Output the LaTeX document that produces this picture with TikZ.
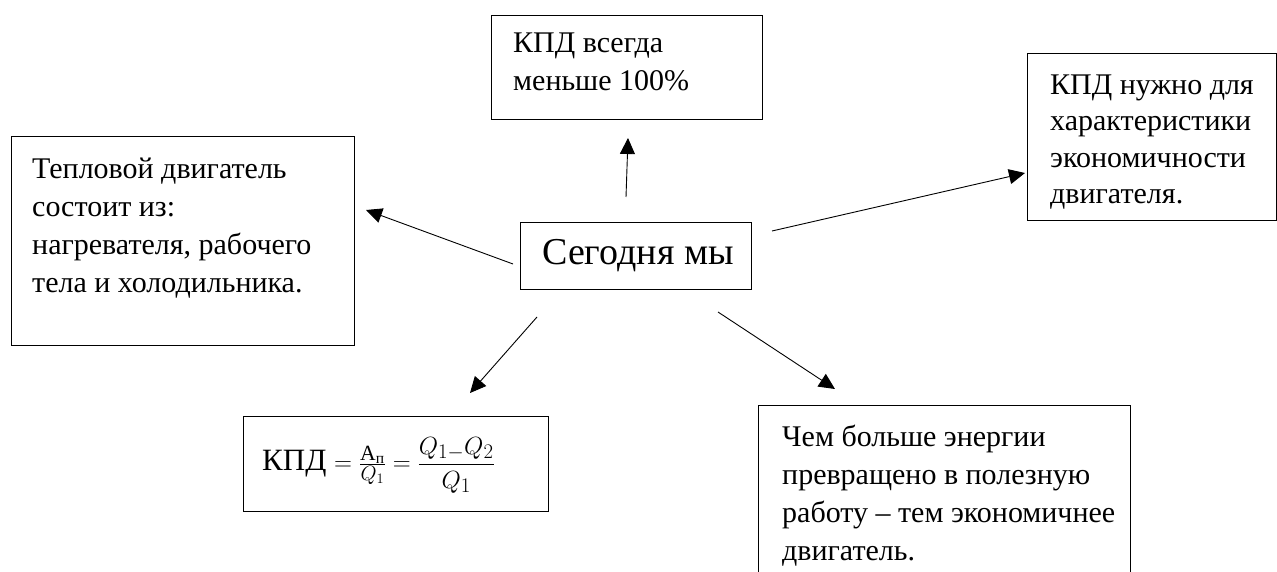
\documentclass[tikz,border=0pt]{standalone}
\usepackage{amsmath}
\usepackage{fontspec}
\setmainfont{Liberation Serif}
\usetikzlibrary{arrows.meta}

% text nodes are placed by the baseline of their last line
\tikzset{
  frame/.style={draw, rectangle, line width=1.3pt, inner sep=0pt, anchor=north west},
  words/.style={anchor=base west, inner sep=0pt, align=left, font=\fontsize{30}{38}\selectfont},
  link/.style={line width=0.9pt, -{Triangle[length=16pt,width=15pt]}},
}

\begin{document}
\begin{tikzpicture}[x=1pt, y=-1pt]
  \useasboundingbox (0,0) rectangle (1277,572);
  \clip (0,0) rectangle (1277,572);

  % centre box
  \node[frame, minimum width=231pt, minimum height=67pt] (today) at (520,222) {};
  \node[words, font=\fontsize{38}{44}\selectfont] (todaytxt) at (542,265) {Сегодня мы};

  % top box
  \node[frame, minimum width=271pt, minimum height=104pt] (always) at (491,15) {};
  \node[words] (alwaystxt) at (513,91) {КПД всегда\\меньше 100\%};

  % right box
  \node[frame, minimum width=249pt, minimum height=167pt] (purpose) at (1027,53) {};
  \node[words, font=\fontsize{30}{36.5}\selectfont] (purposetxt) at (1050,204)
    {КПД нужно для\\характеристики\\экономичности\\двигателя.};

  % left box
  \node[frame, minimum width=343pt, minimum height=209pt] (engine) at (11,136) {};
  \node[words] (enginetxt) at (32,292)
    {Тепловой двигатель\\состоит из:\\нагревателя, рабочего\\тела и холодильника.};

  % formula box
  \node[frame, minimum width=305pt, minimum height=95pt] (formula) at (243,416) {};
  \node[anchor=west, inner sep=0pt, font=\fontsize{31}{36}\selectfont] (formulatxt) at (262,465)
    {КПД $= \tfrac{\text{А}_{\text{п}}}{Q_1} = \dfrac{Q_{1-}Q_2}{Q_1}$};

  % bottom right box, running past the lower edge
  \node[frame, minimum width=372pt, minimum height=220pt] (economy) at (758,405) {};
  \node[words] (economytxt) at (782,560)
    {Чем больше энергии\\превращено в полезную\\работу – тем экономичнее\\двигатель.};

  % arrow end points
  \coordinate (toEngineA) at (513,264);  \coordinate (toEngineB) at (366,210);
  \coordinate (toAlwaysA) at (626,197);  \coordinate (toAlwaysB) at (628,138);
  \coordinate (toPurposeA) at (772,231); \coordinate (toPurposeB) at (1025,173);
  \coordinate (toFormulaA) at (537,317); \coordinate (toFormulaB) at (470,393);
  \coordinate (toEconomyA) at (718,312); \coordinate (toEconomyB) at (835,389);

  \draw[link] (toEngineA) -- (toEngineB);
  \draw[link] (toAlwaysA) -- (toAlwaysB);
  \draw[link] (toPurposeA) -- (toPurposeB);
  \draw[link] (toFormulaA) -- (toFormulaB);
  \draw[link] (toEconomyA) -- (toEconomyB);
\end{tikzpicture}
\end{document}
